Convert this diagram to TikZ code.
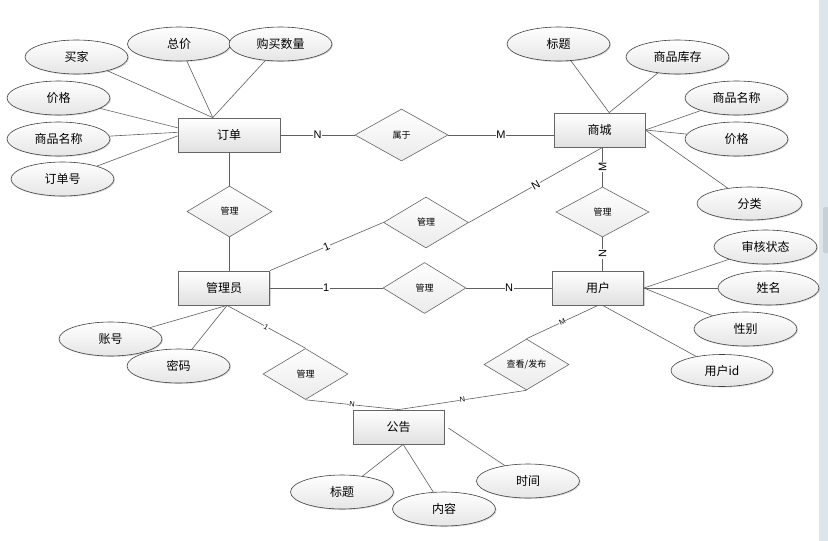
\documentclass[tikz,border=0pt]{standalone}
\usepackage{fontspec}
\newfontfamily\cjk{Noto Sans CJK SC}
\newfontfamily\lat{Liberation Sans}
\usetikzlibrary{shapes.geometric,shadows,calc}
\definecolor{scrollbg}{RGB}{221,228,234}
\definecolor{scrollthumb}{RGB}{200,207,213}
\definecolor{edgegray}{RGB}{95,95,95}
\begin{document}
\begin{tikzpicture}[x=1pt,y=-1pt,
 ent/.style={rectangle, draw=black!60, line width=0.8pt, top color=white, bottom color=black!12,
   minimum width=91pt, minimum height=34pt, inner sep=0pt, font=\cjk\fontsize{12}{14}\selectfont,
   drop shadow={shadow xshift=1.3pt, shadow yshift=-1.3pt, opacity=0.35}},
 att/.style={ellipse, draw=black!75, line width=0.6pt, top color=white, bottom color=black!10,
   minimum width=103pt, minimum height=34pt, inner sep=0pt, font=\cjk\fontsize{12}{14}\selectfont,
   drop shadow={shadow xshift=1pt, shadow yshift=-1pt, opacity=0.3}},
 rel/.style={diamond, draw=black!60, line width=0.6pt, top color=white, bottom color=black!8,
   minimum width=85pt, minimum height=51pt, inner sep=0pt, font=\cjk\fontsize{9}{10}\selectfont},
 link/.style={draw=edgegray, line width=0.6pt},
 card/.style={font=\lat\fontsize{11}{12}\selectfont, fill=white, inner sep=0.6pt},
 cards/.style={font=\lat\fontsize{7.5}{8}\selectfont, fill=white, inner sep=0.3pt}
]
\useasboundingbox (0,0) rectangle (828,541);
\fill[white] (0,0) rectangle (828,541);
\fill[scrollbg] (819,0) rectangle (828,541);
\fill[scrollthumb, rounded corners=2pt] (823,207) rectangle (830,253);

% entities
\node[ent, minimum width=102pt] (od) at (229,135) {订单};
\node[ent] (sh) at (599.5,130) {商城};
\node[ent] (gly) at (224,288) {管理员};
\node[ent] (yh) at (598,288) {用户};
\node[ent] (gg) at (398.5,427) {公告};

% relationships
\node[rel, minimum width=93pt, minimum height=52pt] (sy) at (401.5,135) {属于};
\node[rel] (m1) at (229.5,211.5) {管理};
\node[rel] (m2) at (426,222.5) {管理};
\node[rel, minimum width=93pt, minimum height=50pt] (m3) at (602.5,212) {管理};
\node[rel, minimum width=83pt] (m4) at (424.5,288) {管理};
\node[rel] (m5) at (305.5,374) {管理};
\node[rel] (m6) at (526.5,364.5) {查看/发布};

% attributes of 订单
\node[att] (a1) at (76.5,57) {买家};
\node[att] (a2) at (179,44) {总价};
\node[att] (a3) at (280.5,44) {购买数量};
\node[att] (a4) at (58.5,98) {价格};
\node[att] (a5) at (58.5,139) {商品名称};
\node[att] (a6) at (62.5,179) {订单号};
% attributes of 商城
\node[att] (b1) at (558.5,44) {标题};
\node[att] (b2) at (677.5,57) {商品库存};
\node[att] (b3) at (736.5,98) {商品名称};
\node[att] (b4) at (736.5,139) {价格};
\node[att, minimum width=105pt, minimum height=33pt] (b5) at (749.5,203.5) {分类};
% attributes of 用户
\node[att] (c1) at (765.5,247) {审核状态};
\node[att, minimum width=101pt] (c2) at (768.5,288) {姓名};
\node[att] (c3) at (745.5,329) {性别};
\node[att, minimum width=102pt, minimum height=32pt] (c4) at (722,370.5) {用户id};
% attributes of 管理员
\node[att] (d1) at (110.5,339) {账号};
\node[att] (d2) at (178.5,366) {密码};
% attributes of 公告
\node[att] (e1) at (342,492) {标题};
\node[att] (e2) at (444,509) {内容};
\node[att] (e3) at (528,481) {时间};

% attribute links
\draw[link] (a1) -- (od.133);
\draw[link] (a2) -- (od.133);
\draw[link] (a3) -- (od.133);
\draw[link] (a4) -- (od.172);
\draw[link] (a5) -- (od.177);
\draw[link] (a6) -- (od.181);
\draw[link] (b1) -- (sh.61);
\draw[link] (b2) -- (sh.61);
\draw[link] (b3) -- (sh.east);
\draw[link] (b4) -- (sh.east);
\draw[link] (b5) -- (sh.east);
\draw[link] (c1) -- (yh.east);
\draw[link] (c2) -- (yh.east);
\draw[link] (c3) -- (yh.east);
\draw[link] (c4) -- (yh.-75);
\draw[link] (d1) -- (gly.-80);
\draw[link] (d2) -- (gly.-80);
\draw[link] (e1) -- (gg.-75);
\draw[link] (e2) -- (gg.-75);
\draw[link] (e3) -- ($(gg.east)+(4,1)$);

% relationship links
\draw[link] (od.east) -- node[card]{N} (sy.west);
\draw[link] (sy.east) -- node[card]{M} (sy.east -| sh.west);
\draw[link] (m1.north) -- (m1.north |- od.south);
\draw[link] (m1.south) -- (m1.south |- gly.north);
\draw[link] (gly.north east) -- node[card, sloped]{1} (m2.west);
\draw[link] (m2.east) -- node[card, sloped]{N} (m3.north |- sh.south);
\draw[link] (m3.north |- sh.south) -- node[card, rotate=90]{M} (m3.north);
\draw[link] (m3.south) -- node[card, rotate=90]{N} (m3.south |- yh.north);
\draw[link] (gly.east) -- node[card]{1} (m4.west);
\draw[link] (m4.east) -- node[card]{N} (yh.west);
\draw[link] (gly.-80) -- node[cards, sloped]{1} (m5.north);
\draw[link] (m5.south) -- node[cards, sloped]{N} (gg.north);
\draw[link] (m6.north) -- node[cards, sloped]{M} (yh.south);
\draw[link] (m6.south) -- node[cards, sloped]{N} (gg.north);
\end{tikzpicture}
\end{document}
